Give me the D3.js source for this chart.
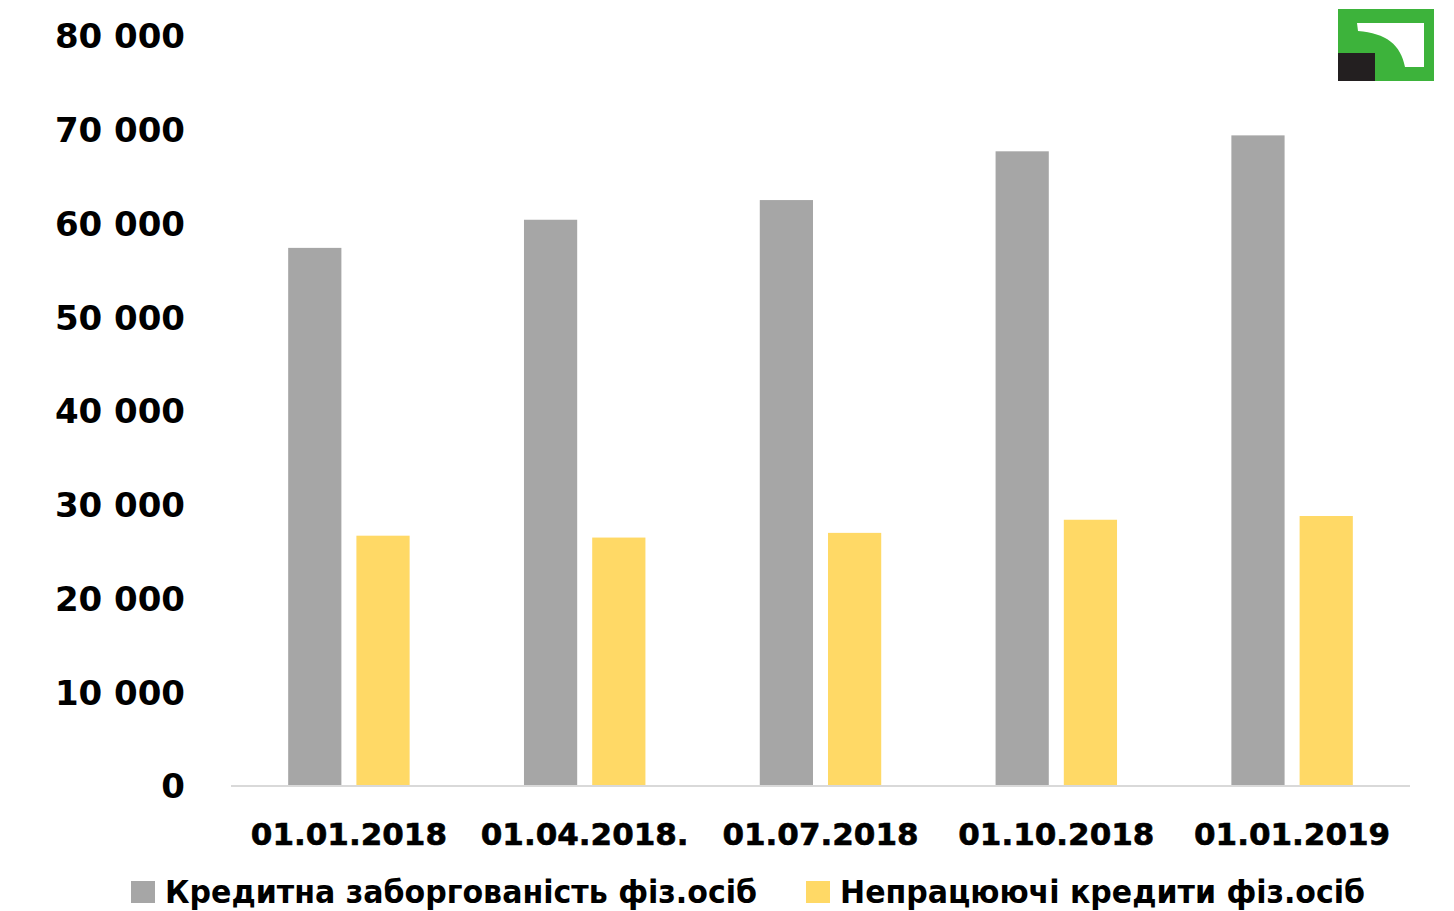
<!DOCTYPE html>
<html>
<head>
<meta charset="utf-8">
<script src="https://cdn.jsdelivr.net/npm/d3@7"></script>
<style>
  html, body { margin: 0; padding: 0; background: #fff; }
  svg { display: block; }
</style>
</head>
<body>
<svg id="chart" width="1454" height="911"></svg>
<script>
const categories = ["01.01.2018", "01.04.2018.", "01.07.2018", "01.10.2018", "01.01.2019"];
const seriesNames = ["Кредитна заборгованість фіз.осіб", "Непрацюючі кредити фіз.осіб"];
const totalLoans = [57400, 60400, 62500, 67700, 69400];
const npl = [26700, 26500, 27000, 28400, 28800];
const yTicks = [0, 10000, 20000, 30000, 40000, 50000, 60000, 70000, 80000];
const colors = ["#a6a6a6", "#ffd966"];

(function () {
const svg = d3.select("#chart");
const plotLeft = 231, plotRight = 1410, plotBottom = 786, plotTop = 36;

const y = d3.scaleLinear().domain([0, 80000]).range([plotBottom, plotTop]);
const x0 = d3.scaleBand().domain(categories).range([plotLeft, plotRight]).padding(0);
const x1 = d3.scaleBand().domain(seriesNames).range([0, x0.bandwidth()])
  .paddingInner(0.22).paddingOuter(0.838);

const fmt = v => d3.format(",")(v).replace(/,/g, " ");

// Y axis labels
const yAxis = d3.axisLeft(y).tickValues(yTicks).tickFormat(fmt).tickSize(0).tickPadding(0);
const gy = svg.append("g").attr("transform", "translate(185,0)").call(yAxis);
gy.select(".domain").remove();
gy.selectAll("text")
  .attr("font-family", "DejaVu Sans")
  .attr("font-weight", "bold")
  .attr("font-size", 34)
  .attr("fill", "#000")
  .attr("dy", "0.35em");

// Bars
const data = categories.map((c, i) => ({ cat: c, vals: [totalLoans[i], npl[i]] }));
const groups = svg.append("g").selectAll("g").data(data).join("g")
  .attr("transform", d => `translate(${x0(d.cat)},0)`);
groups.selectAll("rect")
  .data(d => d.vals.map((v, j) => ({ key: seriesNames[j], v, j })))
  .join("rect")
  .attr("x", d => x1(d.key))
  .attr("width", x1.bandwidth())
  .attr("y", d => y(d.v))
  .attr("height", d => y(0) - y(d.v))
  .attr("fill", d => colors[d.j]);

// Baseline
svg.append("line")
  .attr("x1", plotLeft).attr("x2", plotRight)
  .attr("y1", y(0)).attr("y2", y(0))
  .attr("stroke", "#d9d9d9").attr("stroke-width", 2);

// X axis labels
const xAxis = d3.axisBottom(x0).tickSize(0).tickPadding(0);
const gx = svg.append("g").attr("transform", `translate(0,${y(0)})`).call(xAxis);
gx.select(".domain").remove();
gx.selectAll("text")
  .attr("font-family", "DejaVu Sans")
  .attr("font-weight", "bold")
  .attr("font-size", 31)
  .attr("fill", "#000")
  .attr("stroke", "#000")
  .attr("stroke-width", 0.6)
  .attr("y", 59)
  .attr("dy", 0);

// Legend
const legendItems = [
  { name: seriesNames[0], color: colors[0], x: 131, w: 592 },
  { name: seriesNames[1], color: colors[1], x: 806, w: 525 }
];
const lg = svg.append("g").selectAll("g").data(legendItems).join("g")
  .attr("transform", d => `translate(${d.x},0)`);
lg.append("rect").attr("x", 0).attr("y", 881).attr("width", 24).attr("height", 22)
  .attr("fill", d => d.color);
lg.append("text")
  .attr("x", 34).attr("y", 903)
  .attr("font-family", "DejaVu Sans Condensed, DejaVu Sans")
  .attr("font-weight", "bold")
  .attr("font-size", 32)
  .attr("fill", "#000")
  .attr("textLength", d => d.w)
  .attr("lengthAdjust", "spacingAndGlyphs")
  .text(d => d.name);

// Logo
const logo = svg.append("g");
logo.append("rect").attr("x", 1338).attr("y", 9).attr("width", 96).attr("height", 72).attr("fill", "#3db33b");
logo.append("path")
  .attr("d", "M1357,23 H1424 V67 H1405 C1401,45 1386,33 1358,31 Z")
  .attr("fill", "#fff");
logo.append("rect").attr("x", 1338).attr("y", 53).attr("width", 37).attr("height", 28).attr("fill", "#231f20");
})();
</script>
</body>
</html>
